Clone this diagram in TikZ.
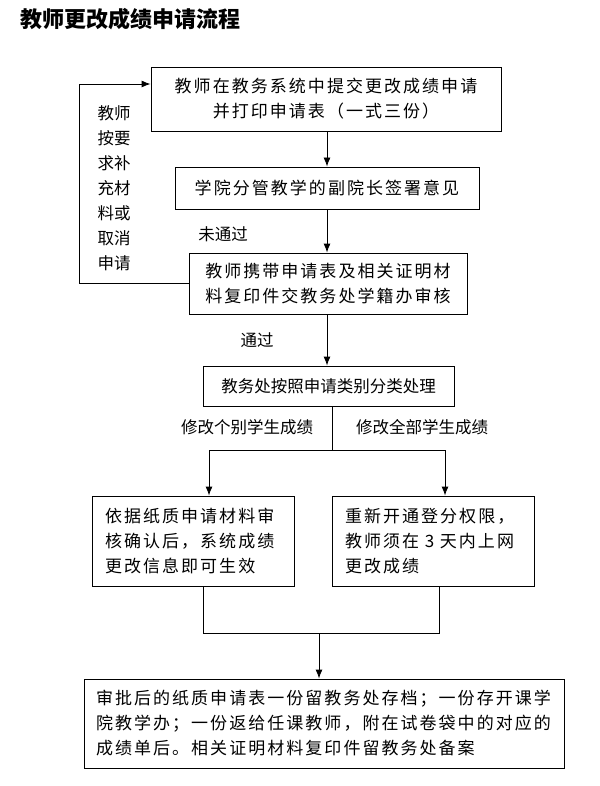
\documentclass[tikz,border=0pt]{standalone}
\usepackage{fontspec}
\setmainfont{Noto Sans CJK SC}
\newfontfamily\boxfont[LetterSpace=12]{Noto Sans CJK SC}
\usetikzlibrary{arrows.meta}

\begin{document}
\begin{tikzpicture}[x=1pt, y=-1pt, line width=0.9pt, >={Latex[length=9pt,width=7pt]},
    box/.style={draw, inner sep=0pt, font=\fontsize{17}{25}\selectfont\boxfont},
    leftbox/.style={box, align=left, inner xsep=13pt, inner ysep=0pt},
    tag/.style={inner sep=0pt, font=\fontsize{16.5}{25}\selectfont}]

    \useasboundingbox (0,0) rectangle (599,786);

    % title
    \node[inner sep=0pt, font=\fontsize{22}{26}\selectfont\bfseries] (title) at (130.5,19) {教师更改成绩申请流程};

    % steps
    \node[box, minimum width=350pt, minimum height=64pt, align=center] (apply) at (326,99)
      {教师在教务系统中提交更改成绩申请\\并打印申请表（一式三份）};
    \node[box, minimum width=304pt, minimum height=42pt] (sign) at (327,188) {学院分管教学的副院长签署意见};
    \node[box, minimum width=278pt, minimum height=61pt, align=center] (submit) at (328,283.5)
      {教师携带申请表及相关证明材\\料复印件交教务处学籍办审核};
    \node[box, font=\fontsize{16.5}{25}\selectfont, minimum width=251pt, minimum height=40pt] (sort) at (328.5,386)
      {教务处按照申请类别分类处理};
    \node[leftbox, text width=176pt, minimum height=90pt] (single) at (193,541)
      {依据纸质申请材料审\\核确认后，系统成绩\\更改信息即可生效};
    \node[leftbox, text width=176pt, minimum height=90pt] (whole) at (433,541)
      {重新开通登分权限，\\教师须在 3 天内上网\\更改成绩};
    \node[leftbox, inner xsep=12pt, text width=456pt, minimum height=89pt] (archive) at (324,723.5)
      {审批后的纸质申请表一份留教务处存档；一份存开课学\\院教学办；一份返给任课教师，附在试卷袋中的对应的\\成绩单后。相关证明材料复印件留教务处备案};

    % labels
    \node[tag] (fail) at (223,234) {未通过};
    \node[tag] (pass) at (257,340) {通过};
    \node[tag] (onecase) at (247,427) {修改个别学生成绩};
    \node[tag] (allcase) at (422,427) {修改全部学生成绩};
    \node[tag, align=center] (loopnote) at (114,188.5) {教师\\按要\\求补\\充材\\料或\\取消\\申请};

    % main flow
    \draw[->] (apply.south -| sign.north) -- (sign.north);
    \draw[->] (sign.south) -- (sign.south |- submit.north);
    \draw[->] (submit.south -| sign.south) -- (sign.south |- sort.north);

    % back to start
    \coordinate (loop) at (79,84);
    \draw[->] (submit.west) -| (loop) -- (loop -| apply.west);

    % split
    \coordinate (split) at (332,450);
    \coordinate (splitl) at (209,450);
    \coordinate (splitr) at (445,450);
    \draw (split |- sort.south) -- (split);
    \draw (splitl) -- (splitr);
    \draw[->] (splitl) -- (splitl |- single.north);
    \draw[->] (splitr) -- (splitr |- whole.north);

    % join
    \coordinate (joinl) at (203,633);
    \coordinate (joinr) at (439,633);
    \coordinate (join) at (319,633);
    \draw (joinl |- single.south) -- (joinl) -- (joinr) -- (joinr |- whole.south);
    \draw[->] (join) -- (join |- archive.north);

\end{tikzpicture}
\end{document}
